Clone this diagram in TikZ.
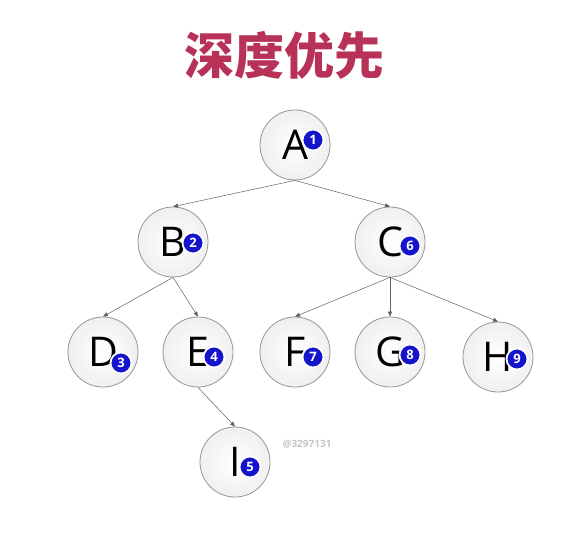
\documentclass[tikz,border=0pt]{standalone}
\usepackage{fontspec}
\setmainfont{Open Sans}
\newfontfamily\cjkfont{Noto Sans CJK SC}
\usepackage{xcolor}
\usetikzlibrary{positioning,arrows.meta,shadows}
\definecolor{titlered}{RGB}{184,50,88}
\definecolor{badgeblue}{RGB}{20,20,205}
\definecolor{ringgray}{RGB}{150,150,150}

\begin{document}
\begin{tikzpicture}[x=1pt,y=-1pt,
  vert/.style={circle,draw=ringgray,line width=0.8pt,inner color=white,outer color=gray!12,
    minimum size=70pt,inner sep=0pt,font=\fontsize{41}{41}\selectfont},
  badge/.style={circle,fill=badgeblue,draw=white,line width=1.8pt,minimum size=21pt,inner sep=0pt,
    text=white,font=\fontsize{13}{13}\selectfont\bfseries,drop shadow={opacity=0.35,shadow xshift=0.6pt,shadow yshift=-0.6pt}},
  link/.style={-{Triangle[length=5pt,width=4pt]},draw=gray!75!black,line width=0.5pt}]
\useasboundingbox (0,0) rectangle (577,539);
\node[font=\cjkfont\bfseries\fontsize{50}{50}\selectfont,text=titlered] (title) at (284,55) {深度优先};
% tree vertices
\node[vert] (A) at (295,145) {A\hspace{15pt}};
\node[vert] (B) at (173,242) {B\hspace{15pt}};
\node[vert] (C) at (390,242) {C\hspace{15pt}};
\node[vert] (D) at (103,352) {D\hspace{22pt}};
\node[vert] (E) at (198,352) {E\hspace{15pt}};
\node[vert] (F) at (295,352) {F\hspace{15pt}};
\node[vert] (G) at (390,352) {G\hspace{15pt}};
\node[vert] (H) at (498,357) {H\hspace{15pt}};
\node[vert] (I) at (235,462) {I\hspace{15pt}};
% visiting order
\node[badge] (nA) at (313,140) {1};
\node[badge] (nB) at (193,243) {2};
\node[badge] (nD) at (121,363) {3};
\node[badge] (nE) at (214,357) {4};
\node[badge] (nI) at (250,467) {5};
\node[badge] (nC) at (410,246) {6};
\node[badge] (nF) at (313,357) {7};
\node[badge] (nG) at (410,355) {8};
\node[badge] (nH) at (517,359) {9};
% edges
\draw[link] (A.south) -- (B.north);
\draw[link] (A.south) -- (C.north);
\draw[link] (B.south) -- (D.north);
\draw[link] (B.south) -- (E.north);
\draw[link] (C.south) -- (F.north);
\draw[link] (C.south) -- (G.north);
\draw[link] (C.south) -- (H.north);
\draw[link] (E.south) -- (I.north);
\node[text=gray!45,font=\fontsize{10}{10}\selectfont\bfseries] (mark) at (307,444) {@3297131};
\end{tikzpicture}
\end{document}
